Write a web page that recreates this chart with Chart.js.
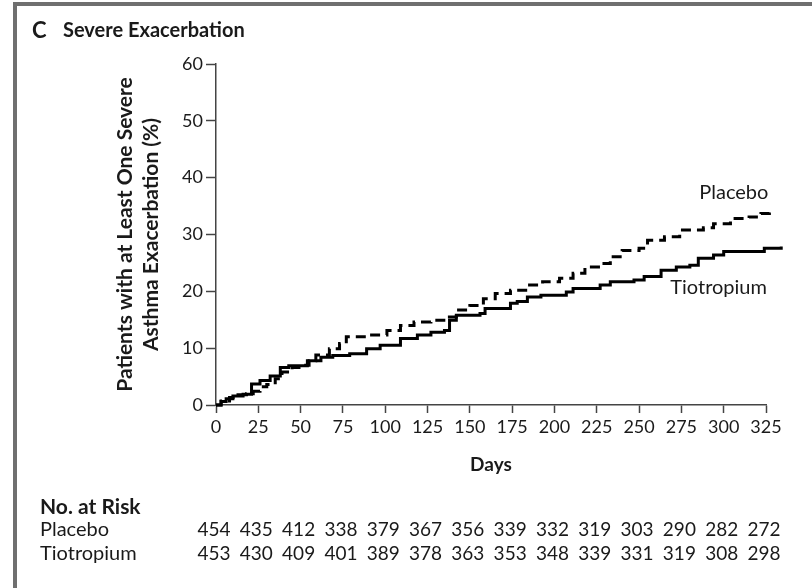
<!DOCTYPE html>
<html>
<head>
<meta charset="utf-8">
<script src="https://cdn.jsdelivr.net/npm/chart.js@4.4.1/dist/chart.umd.min.js"></script>
<style>
  body { margin: 0; background: #fff; }
  #wrap { position: relative; width: 812px; height: 588px; }
  #frameTop { position: absolute; left: 13px; top: 2px; width: 799px; height: 4px; background: #6f6f6f; }
  #frameLeft { position: absolute; left: 13px; top: 2px; width: 4px; height: 586px; background: #6f6f6f; }
  canvas { position: absolute; left: 0; top: 0; }
</style>
</head>
<body>
<div id="wrap">
  <canvas id="grafico" width="812" height="588"></canvas>
  <div id="frameTop"></div>
  <div id="frameLeft"></div>
</div>
<script>
// datos (dias, % acumulado)
const diasPlacebo = [0, 3, 8, 13, 18, 22, 26, 30, 35, 39, 45, 50, 55, 59, 67, 73, 77, 89, 101, 109, 117, 127, 136, 142, 150, 158, 165, 174, 183, 193, 203, 211, 218, 226, 233, 240, 250, 255, 265, 274, 288, 294, 304, 315, 322, 327, 333, 337];
const pctPlacebo  = [0, 0.7, 1.3, 1.8, 2.0, 2.4, 3.2, 3.6, 4.6, 5.8, 6.6, 7.0, 7.8, 8.8, 9.9, 10.8, 12.0, 12.3, 13.1, 14.0, 14.6, 14.9, 15.5, 16.7, 17.5, 18.7, 19.6, 20.2, 21.1, 21.7, 22.3, 23.2, 24.3, 24.9, 26.1, 27.2, 27.6, 29.0, 29.6, 30.8, 31.2, 31.9, 32.8, 33.1, 33.7, 34.2, 34.5, 34.9];

const diasTio = [0, 3, 6, 10, 16, 21, 26, 32, 38, 43, 54, 62, 69, 79, 89, 97, 109, 119, 127, 135, 138, 142, 156, 159, 174, 178, 184, 192, 207, 211, 227, 233, 247, 253, 263, 272, 280, 285, 294, 300, 320, 324, 334, 337];
const pctTio  = [0, 0.6, 1.1, 1.6, 1.9, 3.7, 4.3, 5.1, 6.6, 6.9, 7.8, 8.4, 8.7, 9.0, 9.9, 10.5, 11.7, 12.3, 12.8, 13.1, 14.9, 15.8, 16.1, 17.0, 17.9, 18.2, 19.0, 19.3, 19.9, 20.5, 21.1, 21.7, 22.0, 22.6, 23.7, 24.3, 24.6, 25.8, 26.4, 27.0, 27.0, 27.6, 27.9, 28.3];

// pacientes en riesgo
const diasRiesgo = [0, 25, 50, 75, 100, 125, 150, 175, 200, 225, 250, 275, 300, 325];
const riesgoPlacebo = [454, 435, 412, 338, 379, 367, 356, 339, 332, 319, 303, 290, 282, 272];
const riesgoTio     = [453, 430, 409, 401, 389, 378, 363, 353, 348, 339, 331, 319, 308, 298];

const FUENTE = 'Lato, "Open Sans", sans-serif';
const NEGRO = '#1a1a1a';

const aPuntos = (xs, ys) => xs.map((x, i) => ({ x: x, y: ys[i] }));

// textos fuera del area del grafico: titulo, etiquetas de curvas y tabla de riesgo
const textosPlugin = {
  id: 'textos',
  afterDraw(chart) {
    const ctx = chart.ctx;
    const x = chart.scales.x;
    const y = chart.scales.y;
    ctx.save();
    ctx.fillStyle = NEGRO;
    ctx.textBaseline = 'middle';

    ctx.textAlign = 'left';
    ctx.font = 'bold 22px ' + FUENTE;
    ctx.fillText('C', 32, 31);
    ctx.font = 'bold 20px ' + FUENTE;
    ctx.fillText('Severe Exacerbation', 63, 31);

    // etiquetas de las curvas
    ctx.font = '20px ' + FUENTE;
    ctx.textAlign = 'center';
    ctx.fillText('Placebo', x.getPixelForValue(306), y.getPixelForValue(37.3));
    ctx.fillText('Tiotropium', x.getPixelForValue(297), y.getPixelForValue(20.6));

    // tabla No. at Risk
    ctx.textAlign = 'left';
    ctx.font = 'bold 21px ' + FUENTE;
    ctx.fillText('No. at Risk', 40, 507);
    ctx.font = '20px ' + FUENTE;
    ctx.fillText('Placebo', 40, 530);
    ctx.fillText('Tiotropium', 40, 554);

    ctx.font = '19px ' + FUENTE;
    ctx.textAlign = 'center';
    diasRiesgo.forEach((d, i) => {
      const px = x.getPixelForValue(d) - 2;
      ctx.fillText(String(riesgoPlacebo[i]), px, 530);
      ctx.fillText(String(riesgoTio[i]), px, 554);
    });
    ctx.restore();
  }
};

const ctx = document.getElementById('grafico');
new Chart(ctx, {
  type: 'line',
  data: {
    datasets: [
      {
        label: 'Placebo',
        data: aPuntos(diasPlacebo, pctPlacebo),
        borderColor: '#000',
        borderWidth: 3,
        borderDash: [10, 6],
        stepped: true,
        pointRadius: 0,
        fill: false,
        clip: false
      },
      {
        label: 'Tiotropium',
        data: aPuntos(diasTio, pctTio),
        borderColor: '#000',
        borderWidth: 3,
        stepped: true,
        pointRadius: 0,
        fill: false,
        clip: false
      }
    ]
  },
  options: {
    responsive: false,
    animation: false,
    layout: { padding: { left: 0, right: 46, top: 64, bottom: 108 } },
    plugins: {
      legend: { display: false },
      tooltip: { enabled: false }
    },
    scales: {
      x: {
        type: 'linear',
        min: 0,
        max: 325,
        afterFit: (s) => { s.height = 75; },
        ticks: { stepSize: 25, color: NEGRO, font: { family: FUENTE, size: 18 }, padding: 3, maxRotation: 0 },
        grid: { drawOnChartArea: false, tickLength: 8, tickColor: '#444', tickWidth: 1.5 },
        border: { color: '#444', width: 1.5 },
        title: { display: true, text: 'Days', color: NEGRO, font: { family: FUENTE, size: 19, weight: 'bold' }, padding: { top: 0, bottom: 4 } }
      },
      y: {
        min: 0,
        max: 60,
        afterFit: (s) => { s.width = 216; },
        ticks: { stepSize: 10, color: NEGRO, font: { family: FUENTE, size: 18 }, padding: 3 },
        grid: { drawOnChartArea: false, tickLength: 10, tickColor: '#444', tickWidth: 1.5 },
        border: { color: '#444', width: 1.5 },
        title: {
          display: true,
          text: ['Patients with at Least One Severe', 'Asthma Exacerbation (%)'],
          color: NEGRO,
          font: { family: FUENTE, size: 21, weight: 'bold', lineHeight: '26px' },
          padding: { top: 112, bottom: 0 }
        }
      }
    }
  },
  plugins: [textosPlugin]
});
</script>
</body>
</html>
